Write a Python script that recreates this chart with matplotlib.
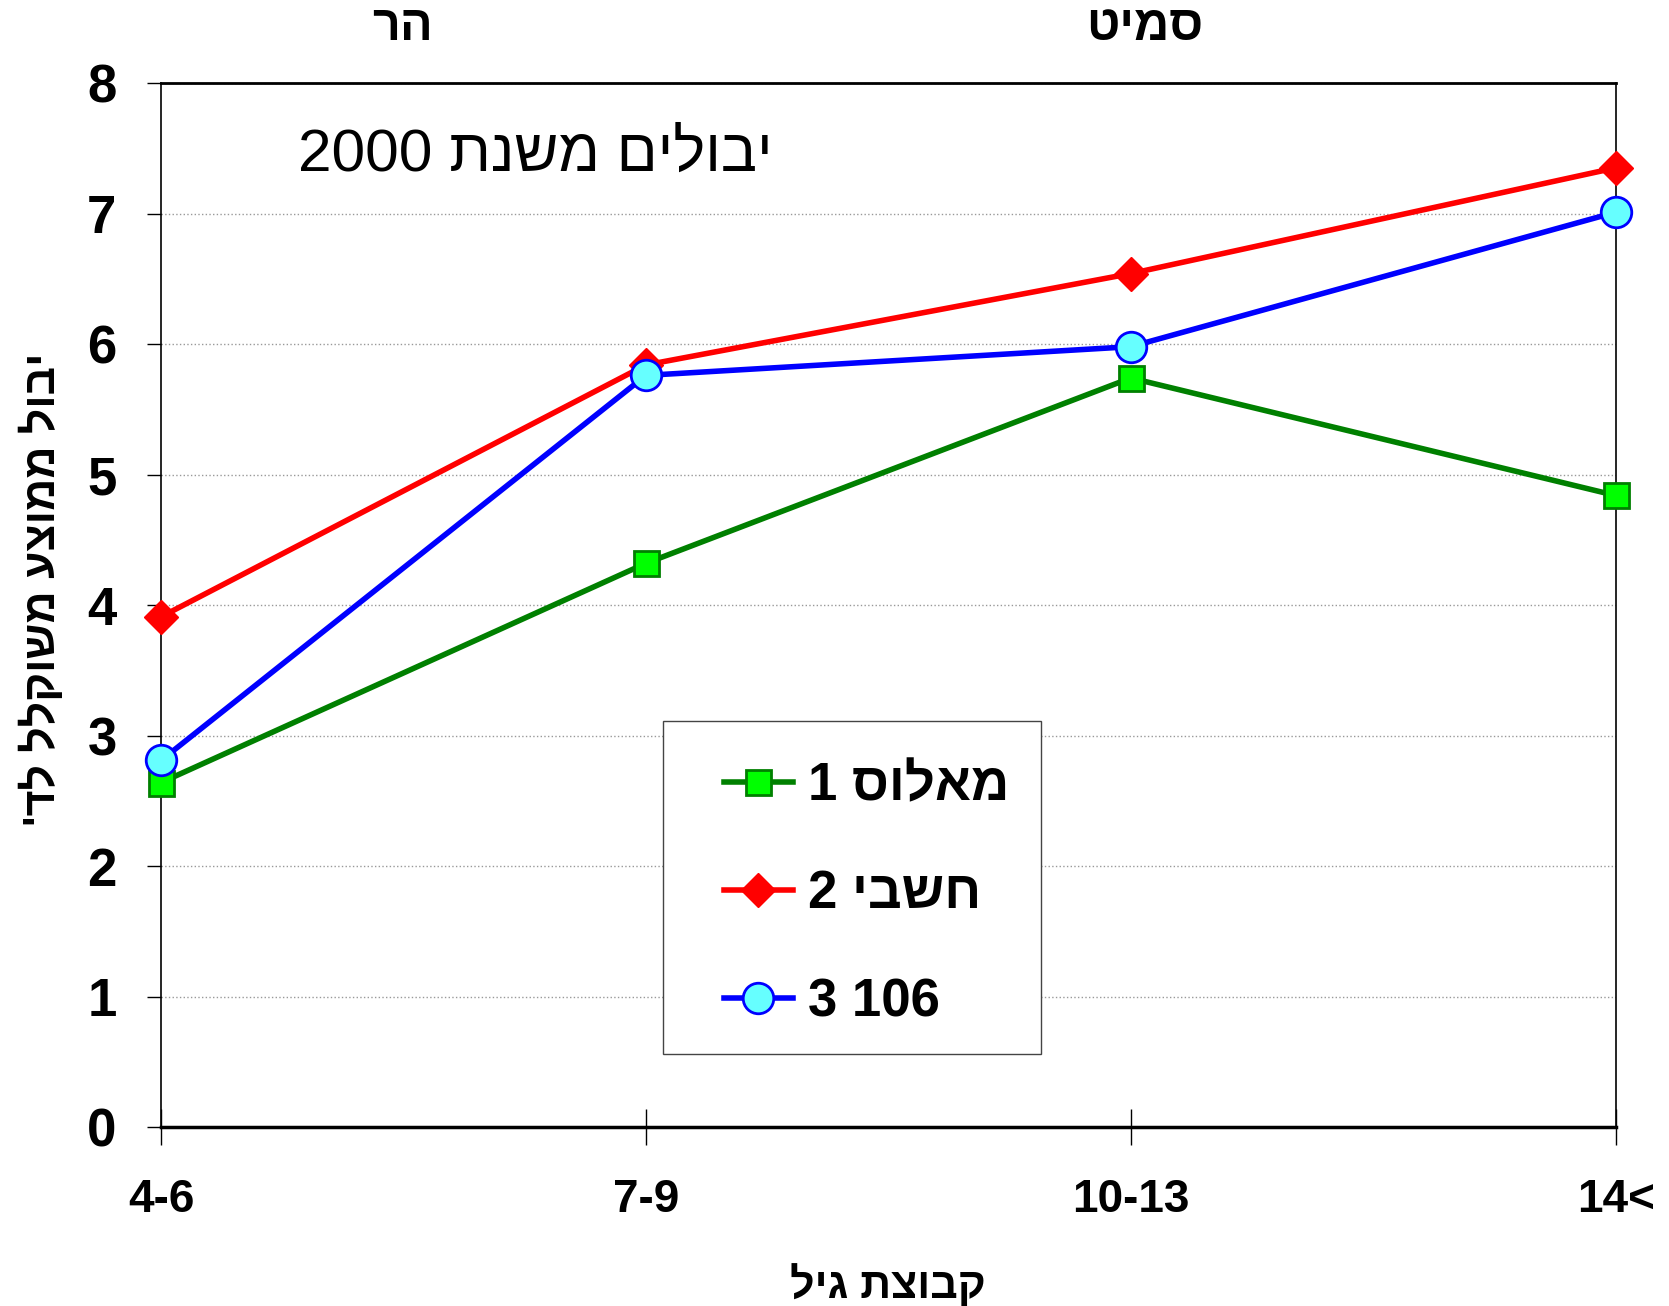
import matplotlib
matplotlib.use('Agg')
import matplotlib.pyplot as plt
from matplotlib.patches import Rectangle
from matplotlib.font_manager import FontProperties
import numpy as np

plt.rcParams['font.family'] = ['Liberation Sans', 'DejaVu Sans']

# data
age_groups = ['4-6', '7-9', '10-13', '14<']
malos = [2.64, 4.32, 5.74, 4.84]
hashbi = [3.91, 5.84, 6.54, 7.35]
v106 = [2.81, 5.76, 5.98, 7.01]
labels = ['מאלוס 1', 'חשבי 2', '3 106']

title = 'יבולים משנת 2000'
ylab = "יבול ממוצע משוקלל לד'"
xlab = 'קבוצת גיל'
top_left = 'הר'
top_right = 'סמיט'


def vis(s):
    # matplotlib has no bidi: flip hebrew words and word order by hand
    heb = lambda t: any('\u0590' <= c <= '\u05ff' for c in t)
    if not heb(s):
        return s
    toks = s.split(' ')
    return ' '.join(t[::-1] if heb(t) else t for t in reversed(toks))


fig = plt.figure(figsize=(16.69, 13.06), dpi=100)
ax = fig.add_axes([0.0965, 0.137, 0.8715, 0.7994])

x = np.arange(len(age_groups))
ax.plot(x, malos, color='#008000', lw=4, marker='s', ms=18, clip_on=False,
        mfc='#00ff00', mec='#008000', mew=2, label=vis(labels[0]), zorder=3)
ax.plot(x, hashbi, color='#ff0000', lw=4, marker='D', ms=17, clip_on=False,
        mfc='#ff0000', mec='#ff0000', label=vis(labels[1]), zorder=4)
ax.plot(x, v106, color='#0000ff', lw=4, marker='o', ms=22, clip_on=False,
        mfc='#66ffff', mec='#0000ff', mew=2, label=vis(labels[2]), zorder=5)

ax.set_xlim(0, 3)
ax.set_ylim(0, 8)
ax.set_yticks(range(0, 9))
ax.set_xticks(x)
ax.set_xticklabels(age_groups, fontsize=33, fontweight='bold')
ax.tick_params(axis='x', direction='inout', length=26, width=1, pad=24)
ax.tick_params(axis='y', direction='out', length=10, width=1, pad=22, labelsize=38)
for t in ax.get_yticklabels():
    t.set_fontweight('bold')

ax.grid(axis='y', color='#999999', ls=':', lw=1)
ax.set_axisbelow(True)
for side in ['left', 'right']:
    ax.spines[side].set_linewidth(1.2)
ax.spines['top'].set_linewidth(2)
ax.spines['bottom'].set_linewidth(2.5)

ax.set_xlabel(vis(xlab), fontsize=31, fontweight='bold', labelpad=30)
yfont = FontProperties(family=['Liberation Sans', 'DejaVu Sans'], weight='bold', size=32)
ax.set_ylabel(vis(ylab), fontproperties=yfont)
ax.yaxis.set_label_coords(-0.067, 0.515)

fig.text(0.321, 0.881, vis(title), fontsize=43.5, ha='center', va='center')
fig.text(0.241, 0.979, vis(top_left), fontsize=35, fontweight='bold', ha='center', va='center')
fig.text(0.686, 0.979, vis(top_right), fontsize=35, fontweight='bold', ha='center', va='center')

# legend frame drawn separately so padding can match the original box
ax.add_patch(Rectangle((0.345, 0.0703), 0.26, 0.319, transform=ax.transAxes,
                       fc='white', ec='#444444', lw=1, zorder=6))
leg = ax.legend(loc='center left', bbox_to_anchor=(0.387, 0.2232),
                borderaxespad=0, borderpad=0, prop={'weight': 'bold', 'size': 38},
                frameon=False, handlelength=1.3, labelspacing=1.1, handletextpad=0.3)
leg.set_zorder(7)

fig.savefig('out.png', dpi=100)
